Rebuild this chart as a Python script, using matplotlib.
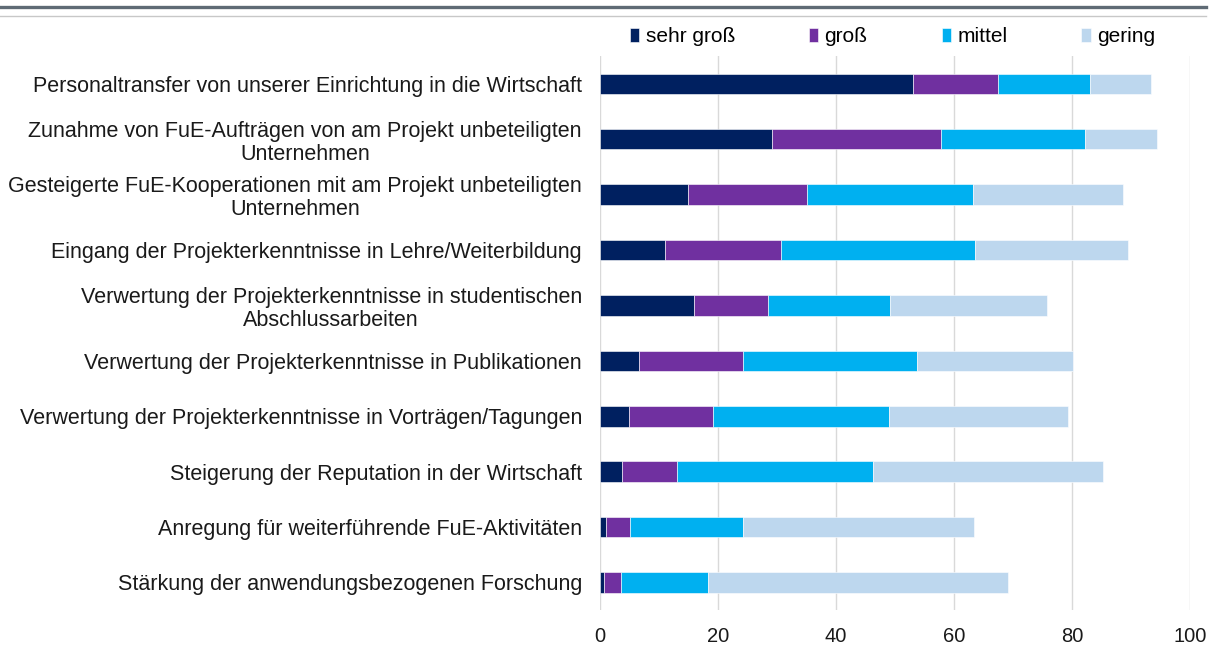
import numpy as np
import matplotlib.pyplot as plt
from matplotlib.lines import Line2D

plt.rcParams['font.family'] = ['Liberation Sans', 'DejaVu Sans']

# Kategorien (von oben nach unten)
categories = [
    "Personaltransfer von unserer Einrichtung in die Wirtschaft",
    "Zunahme von FuE-Aufträgen von am Projekt unbeteiligten\nUnternehmen",
    "Gesteigerte FuE-Kooperationen mit am Projekt unbeteiligten\nUnternehmen",
    "Eingang der Projekterkenntnisse in Lehre/Weiterbildung",
    "Verwertung der Projekterkenntnisse in studentischen\nAbschlussarbeiten",
    "Verwertung der Projekterkenntnisse in Publikationen",
    "Verwertung der Projekterkenntnisse in Vorträgen/Tagungen",
    "Steigerung der Reputation in der Wirtschaft",
    "Anregung für weiterführende FuE-Aktivitäten",
    "Stärkung der anwendungsbezogenen Forschung",
]

# Anteile in Prozent
sehr_gross = [53.0, 29.1, 15.0, 11.1, 15.9, 6.6, 4.9, 3.8, 1.1, 0.7]
gross = [14.5, 28.7, 20.0, 19.6, 12.6, 17.6, 14.3, 9.3, 4.0, 2.8]
mittel = [15.6, 24.3, 28.2, 32.9, 20.7, 29.5, 29.7, 33.2, 19.1, 14.8]
gering = [10.3, 12.3, 25.4, 25.9, 26.6, 26.4, 30.4, 39.0, 39.2, 50.8]

series_names = ["sehr groß", "groß", "mittel", "gering"]
colors = ["#002060", "#7030A0", "#00B0F0", "#BDD7EE"]

fig = plt.figure(figsize=(12.12, 6.45), dpi=100)
ax = fig.add_axes([0.495, 0.054, 0.487, 0.859])

y = np.arange(len(categories))
left = np.zeros(len(categories))
for name, vals, col in zip(series_names, [sehr_gross, gross, mittel, gering], colors):
    ax.barh(y, vals, left=left, height=0.37, color=col, label=name,
            edgecolor="white", linewidth=0.4, zorder=3)
    left += np.array(vals)

ax.set_xlim(0, 100)
ax.set_ylim(len(categories) - 0.5, -0.5)
ax.set_xticks(range(0, 101, 20))
ax.set_yticks(y)
ax.set_yticklabels(categories, ha="right", ma="center", linespacing=1.12)
ax.tick_params(axis="y", length=0, pad=13, labelsize=15.5, colors="#1a1a1a")
ax.tick_params(axis="x", length=0, pad=12, labelsize=14.5, colors="#1a1a1a")

ax.grid(axis="x", color="#d9d9d9", linewidth=1, zorder=0)
for s in ax.spines.values():
    s.set_visible(False)

ax.legend(loc="center left", bbox_to_anchor=(630 / 1212, 1 - 37 / 645),
          bbox_transform=fig.transFigure, ncol=4, frameon=False, fontsize=15,
          handlelength=0.45, handleheight=0.65, handletextpad=0.3,
          columnspacing=3.55, borderaxespad=0, borderpad=0)

fig.add_artist(Line2D([0.0, 0.995], [1 - 7 / 645, 1 - 7 / 645], color="#5f6b75", linewidth=2.4))
fig.add_artist(Line2D([0.0, 0.995], [1 - 16 / 645, 1 - 16 / 645], color="#c8c8c8", linewidth=1))

fig.savefig("out.png", dpi=100)
